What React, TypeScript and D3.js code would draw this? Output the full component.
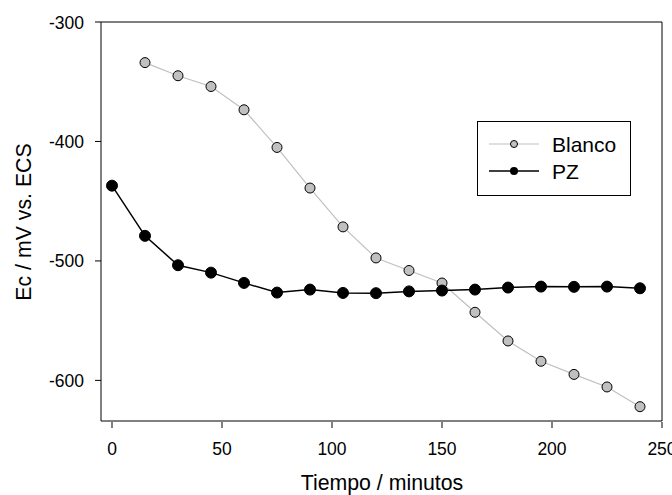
import React from "react";
import * as d3 from "d3";

const blancoTime = [15, 30, 45, 60, 75, 90, 105, 120, 135, 150, 165, 180, 195, 210, 225, 240];
const blancoEc = [-334, -345, -354, -373.5, -405, -439, -471.5, -497.5, -508, -518.5, -543, -567, -584, -595, -605.5, -622];
const pzTime = [0, 15, 30, 45, 60, 75, 90, 105, 120, 135, 150, 165, 180, 195, 210, 225, 240];
const pzEc = [-437, -479, -503.6, -509.8, -518.4, -526.5, -524, -526.8, -527, -525.5, -524.8, -524, -522.3, -521.5, -521.7, -521.5, -522.9];
const xTicks = [0, 50, 100, 150, 200, 250];
const yTicks = [-300, -400, -500, -600];
const seriesNames = ["Blanco", "PZ"];

const W = 672, H = 495;
const left = 101, right = 662, top = 22, bottom = 421;
const font = "'Liberation Sans', Arial, sans-serif";

export default function App() {
  const x = d3.scaleLinear().domain([-5, 250]).range([left, right]);
  const y = d3.scaleLinear().domain([-634, -300]).range([bottom, top]);
  const line = d3.line<[number, number]>().x(d => x(d[0])).y(d => y(d[1]));
  const bData = blancoTime.map((t, i) => [t, blancoEc[i]] as [number, number]);
  const pData = pzTime.map((t, i) => [t, pzEc[i]] as [number, number]);

  return (
    <svg width={W} height={H} style={{ position: "absolute", left: 0, top: 0, background: "#fff" }} fontFamily={font}>
      <rect x={0} y={0} width={W} height={H} fill="#fff" />
      <line x1={left} y1={top} x2={right} y2={top} stroke="#000" strokeWidth={1} />
      <line x1={right} y1={top} x2={right} y2={bottom} stroke="#000" strokeWidth={1} />
      <line x1={left} y1={top} x2={left} y2={bottom} stroke="#000" strokeWidth={1} />
      <line x1={left} y1={bottom} x2={right} y2={bottom} stroke="#000" strokeWidth={1} />
      {xTicks.map(t => (
        <g key={"x" + t}>
          <line x1={x(t)} x2={x(t)} y1={bottom + 1} y2={bottom + 7} stroke="#000" />
          <text x={x(t)} y={455} textAnchor="middle" fontSize={17.5} fill="#000">{t}</text>
        </g>
      ))}
      {yTicks.map(t => (
        <g key={"y" + t}>
          <line x1={left - 6} x2={left} y1={y(t)} y2={y(t)} stroke="#000" />
          <text x={84} y={y(t) + 6.5} textAnchor="end" fontSize={17.5} fill="#000">{t}</text>
        </g>
      ))}
      <text x={382} y={490} textAnchor="middle" fontSize={21.3} fill="#000">Tiempo / minutos</text>
      <text transform={`translate(30.5, 222) rotate(-90)`} textAnchor="middle" fontSize={21.3} fill="#000">Ec / mV vs. ECS</text>

      <path d={line(bData) || ""} fill="none" stroke="#c0c0c0" strokeWidth={1.2} />
      <path d={line(pData) || ""} fill="none" stroke="#000" strokeWidth={1.5} />
      {bData.map((d, i) => (
        <circle key={"b" + i} cx={x(d[0])} cy={y(d[1])} r={5} fill="#c0c0c0" stroke="#000" strokeWidth={1} />
      ))}
      {pData.map((d, i) => (
        <circle key={"p" + i} cx={x(d[0])} cy={y(d[1])} r={5.5} fill="#000" stroke="#000" strokeWidth={1} />
      ))}

      <rect x={477.5} y={121.5} width={153} height={74} fill="#fff" stroke="#000" strokeWidth={1} />
      <line x1={489} x2={539} y1={144} y2={144} stroke="#c0c0c0" strokeWidth={1.2} />
      <circle cx={514} cy={144} r={3.5} fill="#c0c0c0" stroke="#000" strokeWidth={1} />
      <text x={552} y={152} fontSize={21} fill="#000">{seriesNames[0]}</text>
      <line x1={489} x2={539} y1={171} y2={171} stroke="#000" strokeWidth={1.5} />
      <circle cx={514} cy={171} r={4} fill="#000" />
      <text x={552} y={178.5} fontSize={21} fill="#000">{seriesNames[1]}</text>
    </svg>
  );
}
